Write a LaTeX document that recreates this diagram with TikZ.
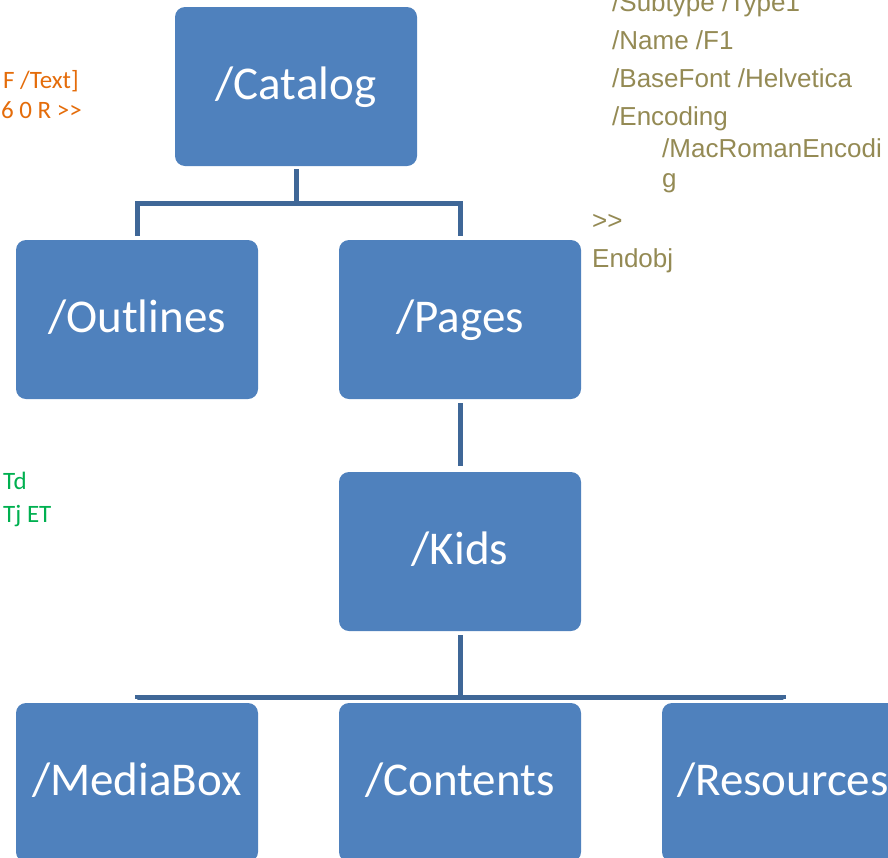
\documentclass[tikz,border=0pt]{standalone}
\usepackage{fontspec}
\setmainfont{Carlito}
\newfontfamily\arialfont{Liberation Sans}
\usetikzlibrary{positioning,calc}
\definecolor{boxblue}{HTML}{4F81BD}
\definecolor{linkblue}{HTML}{3F6797}
\definecolor{codeorange}{HTML}{E46C0A}
\definecolor{codegreen}{HTML}{00B050}
\definecolor{codeolive}{HTML}{948A54}

\begin{document}
\begin{tikzpicture}[
    x=1pt, y=-1pt,
    objbox/.style={rectangle, rounded corners=10pt, fill=boxblue,
                   minimum width=242pt, minimum height=159pt, inner sep=0pt,
                   text=white, font=\fontsize{47}{50}\selectfont,
                   text height=26pt, text depth=0pt},
    link/.style={draw=linkblue, line width=5pt},
    olive/.style={anchor=base west, text=codeolive, inner sep=0pt,
                  font=\arialfont\fontsize{26}{30}\selectfont},
    orange/.style={anchor=base east, text=codeorange, inner sep=0pt,
                   font=\fontsize{25}{30}\selectfont},
    green/.style={anchor=base west, text=codegreen, inner sep=0pt,
                  font=\fontsize{25}{30}\selectfont},
  ]

\useasboundingbox (0,0) rectangle (888,857);
\clip (0,0) rectangle (888,857);

% code text behind the tree
\node[orange] (t1) at (79,88) {F /Text]};
\node[orange] (t2) at (82,118) {6 0 R >{}>};
\node[green] (t3) at (3,489) {Td};
\node[green] (t4) at (3,522) {Tj ET};

\node[olive] (f1) at (612,11) {/Subtype /Type1};
\node[olive] (f2) at (612,49) {/Name /F1};
\node[olive] (f3) at (612,87) {/BaseFont /Helvetica};
\node[olive] (f4) at (612,125) {/Encoding};
\node[olive] (f5) at (662,157) {/MacRomanEncodi};
\node[olive] (f6) at (662,187) {g};
\node[olive] (f7) at (592,229) {>{}>};
\node[olive] (f8) at (592,267) {Endobj};

% hierarchy boxes
\node[objbox] (cat) at (296,86.5) {/Catalog};
\node[objbox] (out) at (137,319.5) {/Outlines};
\node[objbox] (pag) at (460,319.5) {/Pages};
\node[objbox] (kid) at (460,551.5) {/Kids};
\node[objbox] (med) at (137,782.5) {/MediaBox};
\node[objbox] (con) at (460,782.5) {/Contents};
\node[objbox] (res) at (783,782.5) {/Resources};

% connectors
\coordinate (bus1) at (296,203);
\coordinate (bus2) at (460,697);
\draw[link, shorten <=3pt] (cat.south) -- (bus1);
\draw[link, shorten >=4pt] (bus1) -| (out.north);
\draw[link, shorten >=4pt] (bus1) -| (pag.north);
\draw[link, shorten <=4pt, shorten >=6pt] (pag.south) -- (kid.north);
\draw[link, shorten <=4pt] (kid.south) -- (bus2);
\draw[link, shorten >=4pt] (bus2) -| (med.north);
\draw[link, shorten >=4pt] (bus2) -- (con.north);
\draw[link, shorten >=4pt] (bus2) -| (res.north);

\end{tikzpicture}
\end{document}
